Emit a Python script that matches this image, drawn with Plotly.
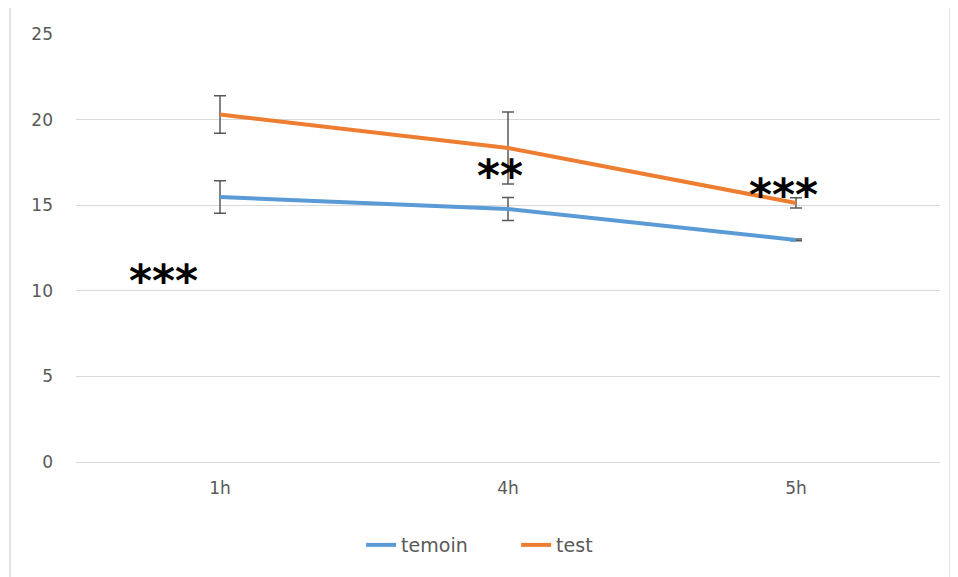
import plotly.graph_objects as go

categories = ["1h", "4h", "5h"]
temoin = [15.48, 14.78, 12.97]
temoin_err = [0.95, 0.67, 0.05]
test = [20.3, 18.34, 15.13]
test_err = [1.1, 2.1, 0.3]
y_ticks = [0, 5, 10, 15, 20, 25]

sig_labels = ["***", "**", "***"]
sig_cat = ["1h", "4h", "5h"]
sig_y = [10.9, 17.05, 15.9]
sig_shift = [-57, -8, -13]

fig = go.Figure()
fig.add_trace(go.Scatter(
    x=categories, y=temoin, name="temoin", mode="lines",
    line=dict(color="#5B9BD5", width=4),
    error_y=dict(type="data", array=temoin_err, color="#595959", thickness=1.5, width=6),
))
fig.add_trace(go.Scatter(
    x=categories, y=test, name="test", mode="lines",
    line=dict(color="#ED7D31", width=4),
    error_y=dict(type="data", array=test_err, color="#595959", thickness=1.5, width=6),
))

for lab, cx, yy, sh in zip(sig_labels, sig_cat, sig_y, sig_shift):
    fig.add_annotation(x=cx, y=yy, text="<b>%s</b>" % lab, showarrow=False,
                       xshift=sh, yshift=-5,
                       font=dict(family="DejaVu Sans", size=44, color="black"),
                       xref="x", yref="y")

fig.add_shape(type="rect", xref="paper", yref="paper",
              x0=-0.0764, x1=1.0116, y0=-0.35, y1=1.0678,
              line=dict(color="#D9D9D9", width=1.5), layer="below")

fig.update_layout(
    width=950, height=569,
    margin=dict(l=68, r=18, t=26, b=115),
    paper_bgcolor="white", plot_bgcolor="white",
    font=dict(family="DejaVu Sans", size=17, color="#595959"),
    showlegend=True,
    legend=dict(orientation="h", x=0.33, xanchor="left", y=-0.194, yanchor="middle",
                entrywidth=110, font=dict(size=19, color="#595959")),
    xaxis=dict(type="category", range=[-0.5, 2.5], showgrid=False, showline=False,
               ticks="", ticklabelstandoff=14, tickfont=dict(size=17, color="#595959")),
    yaxis=dict(range=[0, 25], tickvals=y_ticks, showgrid=True, gridcolor="#D9D9D9",
               gridwidth=1, zeroline=True, zerolinecolor="#D9D9D9", zerolinewidth=1,
               showline=False, ticks="", ticklabelstandoff=22,
               tickfont=dict(size=17, color="#595959")),
)

fig.write_html("out.html")
